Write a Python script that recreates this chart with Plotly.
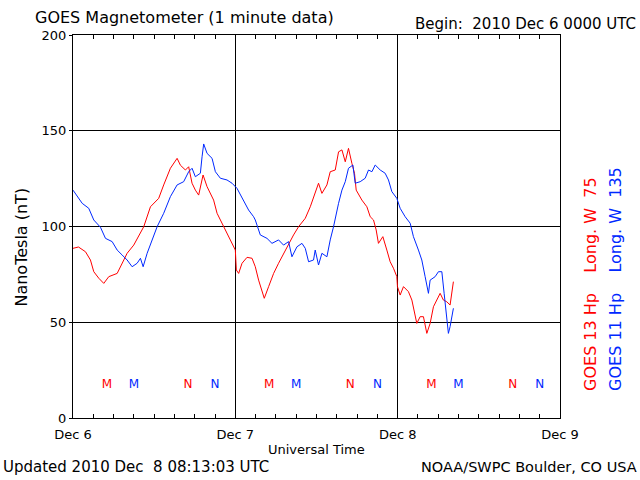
import datetime as dt
import plotly.graph_objects as go

# ---------------- data (hours since 2010-12-06 00:00 UTC, nT) ----------------
g13_hours = [0, 0.81, 1.85, 2.58, 3.07, 3.81, 4.55, 5.29, 6.53, 7.27, 8.0, 8.98, 9.97, 10.46, 11.45,
             12.67, 13.41, 14.4, 15.39, 15.88, 16.62, 17.1, 17.6, 18.09, 18.58, 19.23, 19.82, 20.79,
             21.3, 22.27, 23.26, 24.0, 24.15, 24.49, 24.99, 25.73, 26.47, 26.95, 27.44, 27.94, 28.28,
             28.92, 29.66, 30.39, 31.13, 31.87, 32.61, 33.35, 34.34, 35.08, 35.56, 36.3, 36.8, 37.54,
             38.03, 38.77, 39.26, 39.76, 40.25, 40.73, 41.23, 41.62, 41.87, 42.71, 43.45, 43.94, 44.43,
             44.82, 45.16, 45.81, 46.4, 46.89, 47.38, 47.88, 47.97, 48.37, 48.86, 49.59, 50.1, 50.58,
             50.83, 51.32, 51.81, 52.31, 52.8, 53.29, 53.79, 54.28, 54.76, 55.26, 55.75, 56.0, 56.24]
g13_hp = [88.6, 89.3, 86.8, 82.5, 76.4, 73, 70.3, 73.8, 75.5, 80.8, 86, 90.3, 96.4, 99.9, 110.3,
          114.7, 121.7, 130.4, 135.6, 132, 129.5, 131.2, 122.6, 119, 116.4, 126.9, 120.8, 113.8,
          106.9, 99.9, 93, 87.7, 77.3, 75.5, 80.8, 83.9, 83.4, 79, 72, 66, 62.5,
          68.6, 75.5, 80.8, 86, 91.2, 95.6, 99.9, 104.3, 110.3, 115.6, 122.6, 117.3, 121.7,
          128.6, 129.5, 139, 140, 133.8, 140.8, 133, 127.8, 119, 113.8, 110.3, 105.1, 103.4,
          98.2, 91.2, 94.7, 87.7, 81.6, 78.2, 73.8, 68.6, 64.2, 68.6, 66, 61.6, 53.8,
          49.4, 52.9, 52.9, 44.2, 49.4, 58.1, 61.6, 65.1, 61.6, 60.7, 59, 65.1, 71.2]

g11_hours = [0, 0.62, 1.36, 2.33, 3.07, 4.06, 4.8, 5.79, 6.53, 7.27, 8.0, 8.74, 9.48, 9.97, 10.37,
             10.96, 11.7, 12.44, 13.41, 14.4, 15.39, 16.36, 17.1, 17.6, 18.09, 18.83, 19.08, 19.32,
             19.82, 20.56, 21.05, 21.79, 22.77, 23.51, 24.25, 25.23, 25.96, 26.7, 26.95, 27.69,
             28.68, 29.42, 30.39, 31.13, 31.87, 32.37, 33.11, 33.85, 34.34, 34.83, 35.56, 35.81,
             36.3, 36.8, 37.54, 38.03, 38.52, 39.26, 39.76, 40.25, 40.73, 41.38, 41.72, 42.46,
             43.2, 43.69, 44.19, 44.68, 45.42, 46.15, 46.64, 47.14, 47.88, 48.37, 49.11, 49.85,
             50.33, 51.07, 51.57, 52.06, 52.55, 52.8, 53.54, 54.03, 54.53, 54.87, 55.26, 55.5,
             55.75, 56.0, 56.24]
g11_hp = [119, 115.6, 112.1, 109.5, 103.4, 99.6, 93.8, 92.1, 87.7, 85.1, 82.5, 79, 80.8, 83.4, 79,
          86, 93, 99.9, 106.9, 115.6, 121.7, 123.4, 128.6, 130.4, 126, 127.8, 136.4, 143.1,
          138.2, 135.6, 128.6, 125.2, 124.3, 122.6, 119.9, 113.8, 108.6, 105.1, 103.4, 95.6,
          93.8, 91.2, 93, 90.3, 92.1, 84.2, 89.4, 91.2, 88.6, 81.6, 82.5, 87.7,
          79.9, 86, 84.2, 93, 99.9, 112.1, 119, 123.4, 130.4, 132.1, 122.6, 123.4,
          125.2, 129.5, 128.6, 132.1, 129.5, 127.8, 124.3, 118.2, 114.7, 109.5, 105.1, 101.7,
          94.7, 87.7, 82.5, 73.8, 65.1, 72, 73.8, 76.4, 76.4, 65.1, 51.2, 44.2,
          47.7, 52.9, 57.3]

# local midnight (M) / noon (N) markers, hours UT
mn_hours = [5, 9, 17, 21, 29, 33, 41, 45, 53, 57, 65, 69]
mn_labels = ["M", "M", "N", "N"] * 3
mn_sat = ["g13", "g11", "g13", "g11"] * 3
mn_level = 17

y_ticks = [0, 50, 100, 150, 200]

RED = "#ff0000"
BLUE = "#0028ff"
FONT = "DejaVu Sans"

t0 = dt.datetime(2010, 12, 6)


def to_time(hours):
    return [t0 + dt.timedelta(hours=h) for h in hours]


t_end = t0 + dt.timedelta(days=3)

fig = go.Figure()
fig.add_trace(go.Scatter(x=to_time(g13_hours), y=g13_hp, mode="lines",
                         line=dict(color=RED, width=1), showlegend=False))
fig.add_trace(go.Scatter(x=to_time(g11_hours), y=g11_hp, mode="lines",
                         line=dict(color=BLUE, width=1), showlegend=False))
fig.add_trace(go.Scatter(x=to_time(mn_hours), y=[mn_level] * len(mn_hours), mode="text",
                         text=mn_labels,
                         textfont=dict(family=FONT, size=12,
                                       color=[RED if s == "g13" else BLUE for s in mn_sat]),
                         showlegend=False))

L, R, T, B = 72.5, 80, 35, 62
W, H = 640, 480
pw, ph = W - L - R, H - T - B


def px(xp):
    return (xp - L) / pw


def py(yp):
    return (H - B - yp) / ph


common_minor = dict(dtick=3 * 3600 * 1000, ticks="inside", ticklen=4, tickcolor="black",
                    tickwidth=1, showgrid=False)

fig.update_layout(
    width=W, height=H, margin=dict(l=L, r=R, t=T, b=B),
    paper_bgcolor="white", plot_bgcolor="white",
    font=dict(family=FONT, color="black", size=13),
    xaxis=dict(type="date", range=[t0, t_end], tick0=t0, dtick=86400000,
               tickformat="%b %-d", showgrid=True, gridcolor="black", gridwidth=1,
               showline=True, linecolor="black", linewidth=1, mirror=True,
               ticks="", minor=common_minor, zeroline=False,
               tickfont=dict(size=13), ticklabelstandoff=4),
    xaxis2=dict(type="date", range=[t0, t_end], overlaying="x", side="top",
                tick0=t0, dtick=86400000, showgrid=False, showticklabels=False,
                ticks="", minor=common_minor, showline=False, zeroline=False),
    yaxis=dict(range=[0, 200], tickvals=y_ticks, showgrid=True, gridcolor="black",
               gridwidth=1, showline=True, linecolor="black", linewidth=1, mirror=True,
               ticks="outside", ticklen=3, tickcolor="black", zeroline=False,
               tickfont=dict(size=13)),
)

# invisible anchor trace for top axis
fig.add_trace(go.Scatter(x=[t0], y=[None], xaxis="x2", mode="lines", showlegend=False,
                         hoverinfo="skip"))

ann = [
    dict(text="GOES Magnetometer (1 minute data)", x=px(32), y=py(18), xanchor="left",
         yanchor="middle", font=dict(size=16)),
    dict(text="Begin:\u00a0\u00a02010 Dec 6 0000 UTC", x=px(638), y=py(24), xanchor="right",
         yanchor="middle", font=dict(size=15)),
    dict(text="Universal Time", x=px(316), y=py(449), xanchor="center", yanchor="middle",
         font=dict(size=13)),
    dict(text="Updated 2010 Dec\u00a0\u00a08 08:13:03 UTC", x=px(0), y=py(467), xanchor="left",
         yanchor="middle", font=dict(size=15)),
    dict(text="NOAA/SWPC Boulder, CO USA", x=px(639), y=py(467), xanchor="right",
         yanchor="middle", font=dict(size=14.5)),
    dict(text="NanoTesla (nT)", x=px(20), y=py(247), xanchor="center", yanchor="middle",
         textangle=-90, font=dict(size=16)),
    dict(text="GOES 13\u00a0Hp\u00a0\u00a0\u00a0\u00a0Long.\u00a0W\u00a0\u00a075",
         x=px(590), y=py(393), xanchor="center", yanchor="bottom", textangle=-90,
         font=dict(size=16, color=RED)),
    dict(text="GOES 11\u00a0Hp\u00a0\u00a0\u00a0\u00a0Long.\u00a0W\u00a0\u00a0135",
         x=px(615), y=py(393), xanchor="center", yanchor="bottom", textangle=-90,
         font=dict(size=16, color=BLUE)),
]
for a in ann:
    a.update(xref="paper", yref="paper", showarrow=False)
    a.setdefault("font", {})
    a["font"].setdefault("family", FONT)
fig.update_layout(annotations=ann)

fig.write_html("out.html",
               config={"displayModeBar": False},
               post_script="document.body.style.margin='0';document.body.style.overflow='hidden';")
